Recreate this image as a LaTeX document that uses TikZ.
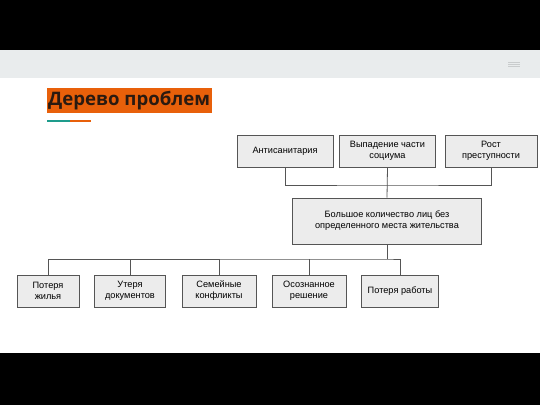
\documentclass[tikz,border=0pt]{standalone}
\usepackage{fontspec}
\setmainfont{Liberation Sans}
\newfontfamily\titlefont{Open Sans}
\definecolor{bandgrey}{HTML}{E9ECED}
\definecolor{boxfill}{HTML}{ECECEC}
\definecolor{boxline}{HTML}{555555}
\definecolor{orng}{HTML}{E8600A}
\definecolor{teal}{HTML}{1E9C8C}
\definecolor{titletext}{HTML}{2A1A10}
\definecolor{icongrey}{HTML}{C9CCCD}
\tikzset{
  probbox/.style={draw=boxline, fill=boxfill, line width=0.8pt, rectangle, align=center,
    font=\fontsize{9.2}{11}\selectfont, inner sep=1pt, minimum height=32pt},
  link/.style={draw=boxline, line width=0.8pt}
}
\begin{document}
\begin{tikzpicture}[x=1pt,y=-1pt]
\useasboundingbox (0,0) rectangle (540,405);
\fill[black] (0,0) rectangle (540,50);
\fill[bandgrey] (0,50) rectangle (540,78);
\fill[white] (0,78) rectangle (540,353);
\fill[black] (0,353) rectangle (540,405);
% hamburger icon
\foreach \yy in {62.5,64.5,66.5} \draw[icongrey, line width=0.8pt] (508,\yy) -- (520,\yy);
% title
\node[fill=orng, inner sep=1.5pt, anchor=west, minimum height=25pt, text=titletext,
  font=\titlefont\fontsize{18.6}{21}\selectfont\bfseries] (title) at (46.5,100.5) {Дерево проблем};
\draw[teal, line width=2.2pt] (47,121) -- (70,121);
\draw[orng, line width=2.2pt] (70,121) -- (91,121);
% top row
\node[probbox, minimum width=96pt] (anti) at (285,151) {Антисанитария};
\node[probbox, minimum width=96pt] (vyp) at (387.5,151) {Выпадение части\\социума};
\node[probbox, minimum width=92pt] (rost) at (491,151) {Рост\\преступности};
% middle
\node[probbox, minimum width=189pt, minimum height=46pt] (mid) at (387,221) {Большое количество лиц без\\определенного места жительства};
% bottom row
\node[probbox, minimum width=62pt] (zhil) at (48,291) {Потеря\\жилья};
\node[probbox, minimum width=71pt] (dok) at (130,291) {Утеря\\документов};
\node[probbox, minimum width=74pt] (sem) at (219,291) {Семейные\\конфликты};
\node[probbox, minimum width=74pt] (osoz) at (309,291) {Осознанное\\решение};
\node[probbox, minimum width=77pt] (rab) at (400,291) {Потеря работы};
\coordinate (hubtop) at (387,185);
\coordinate (hubbot) at (387,259);
% connectors top
\draw[link] (anti.south) |- (hubtop) -| (rost.south);
\draw[link] (vyp.south) -- (mid.north);
% connectors bottom
\draw[link] (zhil.north) |- (hubbot) -| (rab.north);
\draw[link] (mid.south) -- (hubbot);
\draw[link] (dok.north) -- (dok.north |- hubbot);
\draw[link] (sem.north) -- (sem.north |- hubbot);
\draw[link] (osoz.north) -- (osoz.north |- hubbot);
\end{tikzpicture}
\end{document}
